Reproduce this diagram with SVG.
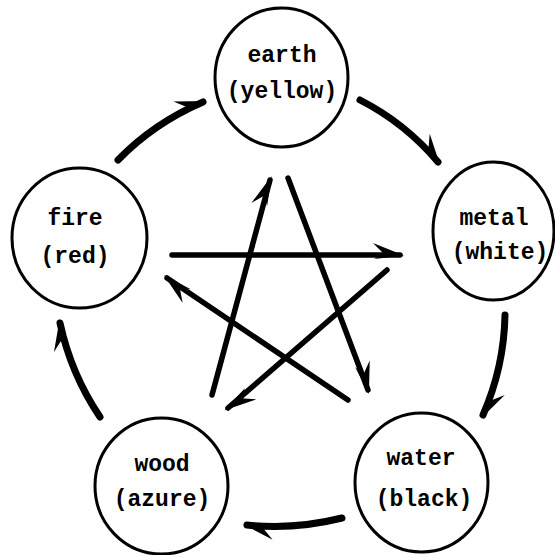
<svg xmlns="http://www.w3.org/2000/svg" width="555" height="555" viewBox="0 0 555 555">
<style>
.node ellipse{fill:#fff;stroke:#000;stroke-width:3}
.node text{font-family:"Liberation Mono","Courier New",monospace;font-weight:bold;font-size:23px;fill:#000;text-anchor:middle}
.outer{fill:none;stroke:#000;stroke-width:7;stroke-linecap:round;marker-end:url(#barb)}
.star{fill:none;stroke:#000;stroke-width:5.5;stroke-linecap:round;marker-end:url(#barb)}
</style>
<defs>
<marker id="barb" markerUnits="userSpaceOnUse" orient="auto" markerWidth="60" markerHeight="40" refX="0" refY="0" viewBox="-30 -20 60 40" overflow="visible">
<path d="M4,0.5 L-27,-12 L-16,-1 L-26,4 Z" fill="#000"/>
</marker>
</defs>
<rect width="555" height="555" fill="#fff"/>
<g id="connectors">
<path class="outer" d="M118,160 Q154,123 203,102"/>
<path class="outer" d="M360,100 Q405,123 438,162"/>
<path class="outer" d="M505,315 Q504,367 483,415"/>
<path class="outer" d="M342,518 Q294,530 247,525"/>
<path class="outer" d="M100,417 Q71,374 60,323"/>
<path class="star" d="M212,395 L270,180"/>
<path class="star" d="M288,178 L368,390"/>
<path class="star" d="M172,255 L400,255"/>
<path class="star" d="M387,270 L228,408"/>
<path class="star" d="M348,400 L167,278"/>
</g>
<g id="earth" class="node">
<ellipse cx="281.5" cy="77.5" rx="66.5" ry="69.5"/>
<text x="282" y="62">earth</text>
<text x="282" y="98">(yellow)</text>
</g>
<g id="metal" class="node">
<ellipse cx="493.5" cy="231" rx="60.5" ry="69"/>
<text x="494" y="225">metal</text>
<text x="500" y="259">(white)</text>
</g>
<g id="water" class="node">
<ellipse cx="421.5" cy="482.5" rx="66.5" ry="69.5"/>
<text x="421" y="465">water</text>
<text x="424" y="506">(black)</text>
</g>
<g id="wood" class="node">
<ellipse cx="161.5" cy="486" rx="66.5" ry="68"/>
<text x="162" y="471">wood</text>
<text x="162" y="506">(azure)</text>
</g>
<g id="fire" class="node">
<ellipse cx="79.5" cy="238" rx="67.5" ry="70"/>
<text x="75" y="225">fire</text>
<text x="75" y="263">(red)</text>
</g>
</svg>
